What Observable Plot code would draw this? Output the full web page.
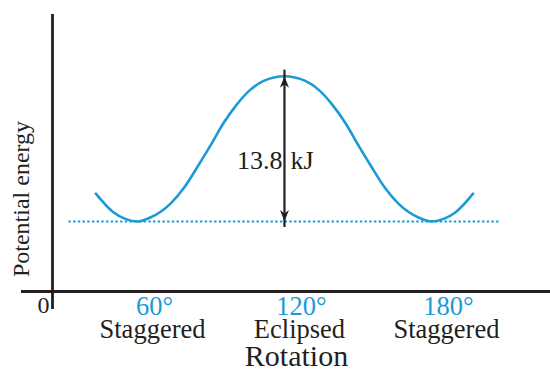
<!DOCTYPE html>
<html><head><meta charset="utf-8">
<script src="https://cdn.jsdelivr.net/npm/d3@7"></script>
<script src="https://cdn.jsdelivr.net/npm/@observablehq/plot@0.6"></script>
<style>
html,body{margin:0;padding:0;background:#fff;}
#chart svg{display:block;}
</style></head><body><div id="chart"></div>
<script>
// Torsion angle (degrees) and potential energy relative to the staggered form (kJ)
const angles   = [43, 50, 55, 60, 65, 73.5, 79, 84.5, 90, 95, 100.5, 106, 111.5, 120, 128.5, 134, 139.5, 145, 150, 155.5, 161, 166.5, 175, 180, 185, 190, 197];
const energies = [2.64, 0.9, 0.25, 0, 0.35, 1.7, 3.2, 5.2, 7.3, 9.3, 11.1, 12.5, 13.35, 13.8, 13.35, 12.5, 11.1, 9.3, 7.3, 5.2, 3.2, 1.7, 0.35, 0, 0.25, 0.9, 2.64];
const tickAngles = [60, 120, 180];
const tickLabels = ["60°", "120°", "180°"];
const conformations = ["Staggered", "Eclipsed", "Staggered"];
const barrier = 13.8;
const barrierAngle = 120;
const referenceExtent = [32, 208];
const xDomain = [25.3, 228.6];
const yDomain = [-6.65, 19.66];

const blue = "#1b9ad6", ink = "#231f20";
const serif = "'Liberation Serif', 'Times New Roman', serif";
const curve = angles.map((a, i) => ({angle: a, energy: energies[i]}));
const ticks = tickAngles.map((a, i) => ({angle: a, label: tickLabels[i], conf: conformations[i]}));

// barbed arrowheads, tip at the origin
const headUp = {draw(ctx) { ctx.moveTo(0, 0); ctx.lineTo(4.5, 11.5); ctx.lineTo(0, 8); ctx.lineTo(-4.5, 11.5); ctx.closePath(); }};
const headDown = {draw(ctx) { ctx.moveTo(0, 0); ctx.lineTo(4.5, -11.5); ctx.lineTo(0, -8); ctx.lineTo(-4.5, -11.5); ctx.closePath(); }};

const plot = Plot.plot({
  width: 550, height: 370,
  marginLeft: 52, marginRight: 0, marginTop: 14, marginBottom: 79,
  x: {domain: xDomain, axis: null},
  y: {domain: yDomain, axis: null},
  style: {fontFamily: serif, background: "#fff"},
  marks: [
    Plot.ruleY([yDomain[0]], {stroke: ink, strokeWidth: 2.8, insetLeft: -31}),
    Plot.ruleX([xDomain[0]], {stroke: ink, strokeWidth: 2.8, insetBottom: -18}),
    Plot.ruleY([0], {x1: referenceExtent[0], x2: referenceExtent[1], stroke: blue, strokeWidth: 2, strokeDasharray: "2.4,2.3"}),
    Plot.line(curve, {x: "angle", y: "energy", curve: "monotone-x", stroke: blue, strokeWidth: 2.6}),
    Plot.ruleX([barrierAngle], {y1: 0, y2: barrier, stroke: ink, strokeWidth: 2.2, insetTop: 6, insetBottom: 6}),
    Plot.dot([barrier], {x: () => barrierAngle, y: d => d, symbol: headUp, r: 5, fill: ink, stroke: null}),
    Plot.dot([0], {x: () => barrierAngle, y: d => d, symbol: headDown, r: 5, fill: ink, stroke: null}),
    Plot.text([barrier], {x: () => barrierAngle, y: d => d / 2, text: d => d.toFixed(1), textAnchor: "end", lineAnchor: "middle", dx: -2, dy: 12, fontSize: 26, fill: ink}),
    Plot.text([barrier], {x: () => barrierAngle, y: d => d / 2, text: () => "kJ", textAnchor: "start", lineAnchor: "middle", dx: 6, dy: 12, fontSize: 26, fill: ink}),
    Plot.text(ticks, {x: "angle", frameAnchor: "bottom", text: "label", textAnchor: "middle", lineAnchor: "middle", dx: 17, dy: 15.5, fontSize: 26.5, fill: blue}),
    Plot.text(ticks, {x: "angle", frameAnchor: "bottom", text: "conf", textAnchor: "middle", lineAnchor: "middle", dx: 15, dy: 38, fontSize: 26.5, fill: ink}),
    Plot.text(["0"], {frameAnchor: "bottom-left", text: d => d, textAnchor: "middle", lineAnchor: "middle", dx: -9, dy: 14, fontSize: 24, fill: ink}),
    Plot.text(["Rotation"], {frameAnchor: "bottom", text: d => d, textAnchor: "middle", lineAnchor: "middle", dx: -5, dy: 64.5, fontSize: 30, fill: ink}),
    Plot.text(["Potential energy"], {frameAnchor: "left", text: d => d, rotate: -90, textAnchor: "middle", lineAnchor: "middle", dx: -31, dy: 46, fontSize: 24, fill: ink})
  ]
});
document.getElementById("chart").append(plot);
</script></body></html>
